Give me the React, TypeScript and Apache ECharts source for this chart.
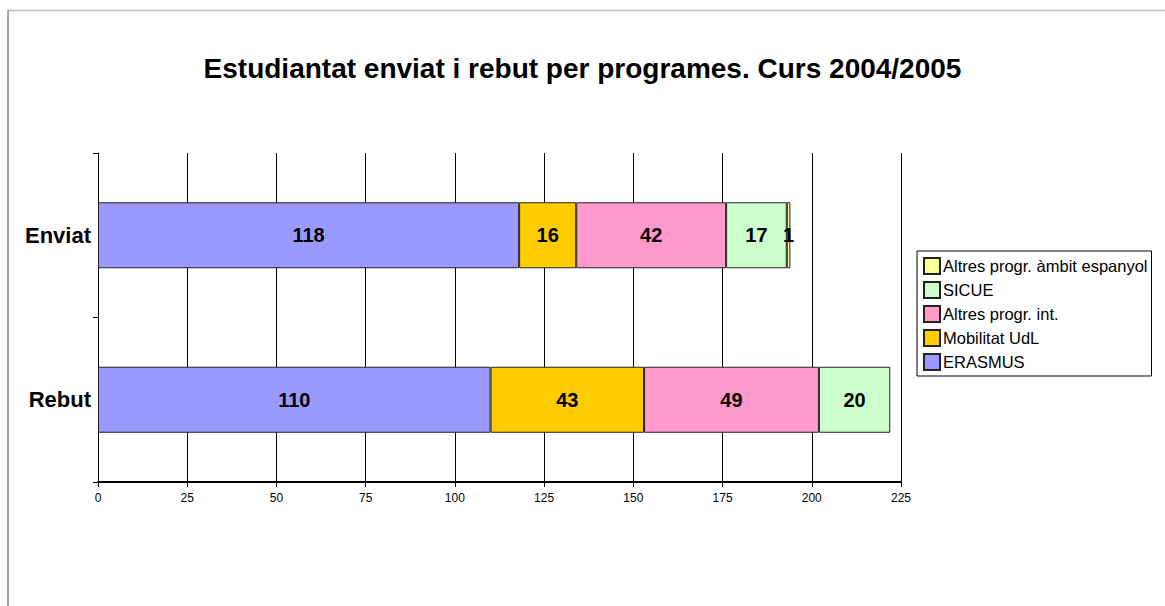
import React, { useEffect, useRef } from "react";
import * as echarts from "echarts";

const title = "Estudiantat enviat i rebut per programes. Curs 2004/2005";
const categories = ["Enviat", "Rebut"];
const seriesNames = ["ERASMUS", "Mobilitat UdL", "Altres progr. int.", "SICUE", "Altres progr. àmbit espanyol"];
const erasmus = [118, 110];
const mobilitat = [16, 43];
const altresInt = [42, 49];
const sicue = [17, 20];
const altresEsp = [1, null];
const colors = ["#9999ff", "#ffcc00", "#ff99cc", "#ccffcc", "#ffff99"];
const xTicks = { min: 0, max: 225, interval: 25 };

export default function App() {
  const ref = useRef<HTMLDivElement>(null);
  useEffect(() => {
    if (!ref.current) return;
    const chart = echarts.init(ref.current, null, { renderer: "svg" });
    const values = [erasmus, mobilitat, altresInt, sicue, altresEsp];
    chart.setOption({
      animation: false,
      textStyle: { fontFamily: "Arial, 'Liberation Sans', sans-serif" },
      title: {
        text: title,
        left: "center",
        top: 54,
        padding: 0,
        textStyle: { fontSize: 28, fontWeight: "bold", color: "#000" },
      },
      graphic: [
        { type: "line", shape: { x1: 8, y1: 10.5, x2: 1165, y2: 10.5 }, style: { stroke: "#c0c0c0", lineWidth: 1.5 } },
        { type: "line", shape: { x1: 8, y1: 10, x2: 8, y2: 606 }, style: { stroke: "#888", lineWidth: 1.5 } },
      ],
      legend: {
        orient: "vertical",
        left: 917,
        top: 251,
        data: [...seriesNames].reverse(),
        borderColor: "#000",
        borderWidth: 1,
        padding: [6, 4, 5, 6],
        itemWidth: 16,
        itemHeight: 16,
        itemGap: 6,
        textStyle: { fontSize: 16.5, color: "#000", lineHeight: 16, padding: [0, 0, 0, -2] },
        icon: "rect",
        selectedMode: false,
      },
      grid: { left: 98, top: 153, width: 803, height: 329, containLabel: false },
      xAxis: {
        type: "value",
        min: xTicks.min,
        max: xTicks.max,
        interval: xTicks.interval,
        axisLine: { show: true, lineStyle: { color: "#000", width: 2 } },
        axisTick: { show: true, length: 5, lineStyle: { color: "#000" } },
        axisLabel: { fontSize: 12, color: "#000", margin: 10 },
        splitLine: { show: true, lineStyle: { color: "#000", width: 1 } },
      },
      yAxis: {
        type: "category",
        inverse: true,
        data: categories,
        axisLine: { show: true, lineStyle: { color: "#000", width: 1 } },
        axisTick: { show: true, length: 5, lineStyle: { color: "#000" } },
        axisLabel: { fontSize: 22, fontWeight: "bold", color: "#000", margin: 7 },
      },
      series: seriesNames.map((name, i) => ({
        name,
        type: "bar",
        stack: "total",
        barWidth: 66,
        data: values[i],
        itemStyle: { color: colors[i], borderColor: "#222", borderWidth: 1 },
        label: {
          show: true,
          position: "inside",
          fontSize: 20,
          fontWeight: "bold",
          color: "#000",
        },
      })),
    });
    return () => chart.dispose();
  }, []);
  return <div ref={ref} style={{ position: "absolute", left: 0, top: 0, width: 1165, height: 606 }} />;
}
